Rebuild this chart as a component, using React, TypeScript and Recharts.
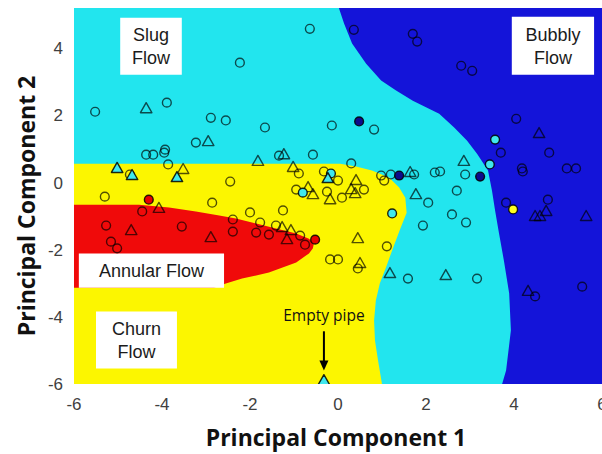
import React from 'react';
import { ComposedChart, Area, Scatter, XAxis, YAxis, ReferenceArea, ReferenceLine } from 'recharts';

type Pt = [number, number];

const xTicks = [-6, -4, -2, 0, 2, 4, 6];
const yTicks = [-6, -4, -2, 0, 2, 4];

// classifier boundaries, as [PC2, PC1 of the right-hand edge]
const plotCorners: Pt[] = [[-6, 6], [5.2, 6]];
const slugEdge: Pt[] = [
  [5.2, 0.02], [4.73, 0.14], [4.14, 0.32], [3.54, 0.64], [3.04, 0.98], [2.74, 1.32], [2.44, 1.7],
  [2.05, 2.3], [1.64, 2.64], [1.25, 2.93], [0.86, 3.16], [0.36, 3.41], [-0.24, 3.5], [-0.83, 3.57],
  [-1.52, 3.66], [-2.32, 3.77], [-3.3, 3.89], [-4.4, 3.93], [-5.6, 3.82], [-6, 3.73],
];
const churnEdge: Pt[] = [
  [0.56, 0.05], [0.48, 0.41], [0.36, 0.77], [0.15, 1.16], [-0.15, 1.39], [-0.45, 1.53], [-0.9, 1.56],
  [-1.43, 1.4], [-2.02, 1.23], [-2.53, 1.09], [-3.01, 0.95], [-3.51, 0.86], [-4.11, 0.82], [-4.7, 0.84],
  [-5.3, 0.91], [-6, 1.0],
];
const annularEdge: Pt[] = [
  [-0.66, -4.52], [-0.74, -3.84], [-0.86, -3.23], [-0.98, -2.7], [-1.07, -2.32], [-1.22, -1.86],
  [-1.37, -1.41], [-1.52, -0.95], [-1.67, -0.66], [-1.82, -0.55], [-1.96, -0.57], [-2.11, -0.66],
  [-2.38, -0.95], [-2.68, -1.57], [-2.86, -2.18], [-3.01, -2.55], [-3.13, -2.82],
];

// samples [PC1, PC2]
const openCircles: Pt[] = [
  [-0.64, 4.58], [-2.23, 3.57], [-5.52, 2.11], [-3.89, 2.38], [-2.89, 1.93], [-2.55, 1.85], [-1.66, 1.64],
  [-0.14, 1.7], [-3.23, 1.19], [-4.36, 0.83], [-4.2, 0.83], [-3.93, 0.98], [-3.95, 0.89], [-3.86, 0.54],
  [-1.34, 0.8], [-0.57, 0.83], [-4.73, 0.24], [-0.89, 0.27], [-2.45, 0.03], [-5.3, -0.42], [-2.86, -0.6],
  [-0.95, -0.21], [-0.25, -0.27], [-4.45, -0.86], [-5.27, -1.28], [-5.16, -1.76], [-5.02, -1.96],
  [-3.55, -1.31], [-2.39, -1.1], [-2.39, -1.46], [-2.0, -0.89], [-1.77, -1.19], [-1.86, -1.49],
  [-1.57, -1.55], [-1.41, -1.28], [-1.25, -0.83], [-0.86, -1.58], [-0.75, -1.85], [-0.18, -2.29],
  [0.0, -2.29], [0.09, -0.45], [0.0, 0.06], [-0.32, 0.33], [0.3, 0.57], [0.82, 1.58], [0.59, -0.21],
  [0.98, 0.21], [1.05, 0.06], [1.2, 0.24], [1.73, 0.24], [2.2, 0.3], [2.32, 0.33], [2.89, 0.24],
  [2.7, -0.24], [2.05, -0.6], [2.59, -0.95], [1.93, -1.28], [2.91, -1.19], [1.11, -1.9], [0.45, -2.56],
  [1.59, -2.86], [3.16, -2.86], [0.36, 4.55], [1.7, 4.43], [1.8, 4.2], [2.8, 3.48], [3.05, 3.33],
  [4.05, 1.9], [3.7, 0.89], [4.8, 0.89], [4.18, 0.42], [4.2, 0.33], [5.2, 0.42], [5.41, 0.42],
  [3.82, -0.6], [4.77, -0.51], [4.48, -3.39], [5.55, -3.1],
];
const openTriangles: Pt[] = [
  [-4.36, 2.2], [-2.95, 1.22], [-1.82, 0.63], [-1.23, 0.83], [-3.52, 0.39], [-1.02, 0.45], [-0.68, -0.15],
  [-0.57, -0.36], [-0.18, -0.51], [-4.07, -0.77], [-4.7, -1.43], [-2.89, -1.64], [-1.27, -1.34],
  [-1.07, -1.43], [-1.16, -1.7], [0.3, -0.21], [0.39, -0.33], [0.41, 0.06], [1.64, 0.3], [1.77, -0.36],
  [0.45, -1.67], [0.5, -2.41], [1.18, -2.71], [2.45, -2.77], [2.86, 0.63], [4.57, 1.46], [4.48, -1.01],
  [4.59, -1.01], [4.73, -0.86], [5.64, -1.01], [4.32, -3.24],
];
const redCircles: Pt[] = [[-4.3, -0.51], [-0.52, -1.7]];
const cyanTriangles: Pt[] = [[-5.02, 0.42], [-4.68, 0.21], [-3.66, 0.15], [-0.23, 0.12], [-0.32, -5.9]];
const cyanCircles: Pt[] = [[-0.8, -0.3], [-0.16, 0.27], [1.23, -0.92], [3.57, 1.28], [3.45, 0.54]];
const blueCircles: Pt[] = [[0.48, 1.82], [1.39, 0.21], [3.23, 0.18]];
const yellowCircles: Pt[] = [[3.98, -0.8]];

const BLUE = '#1414d9';
const CYAN = '#22e5ee';
const YELLOW = '#fcf600';
const RED = '#f00a0a';

const regionRows = [
  ...plotCorners.map(([y, x]) => ({ y, bubbly: x })),
  ...slugEdge.map(([y, x]) => ({ y, slug: x })),
  ...churnEdge.map(([y, x]) => ({ y, churn: x })),
  ...annularEdge.map(([y, x]) => ({ y, annular: x })),
].sort((a, b) => a.y - b.y);

const toXY = (pts: Pt[]) => pts.map(([x, y]) => ({ x, y }));

const circle = (fill: string, edge: number) => (p: any) => (
  <circle cx={p.cx} cy={p.cy} r={4.4} fill={fill} stroke="#000" strokeOpacity={edge} strokeWidth={1.4} />
);
const triangle = (fill: string, edge: number) => (p: any) => (
  <polygon
    points={`${p.cx},${p.cy - 6} ${p.cx - 5.7},${p.cy + 4} ${p.cx + 5.7},${p.cy + 4}`}
    fill={fill}
    stroke="#000"
    strokeOpacity={edge}
    strokeWidth={1.4}
    strokeLinejoin="round"
  />
);

function BoxText({ viewBox, lines }: any) {
  const { x, y, width, height } = viewBox;
  const cx = x + width / 2;
  const gap = 23;
  const first = y + height / 2 - ((lines.length - 1) * gap) / 2 + 6.5;
  return (
    <text textAnchor="middle" fontFamily="'Liberation Sans', Arial" fontSize={18} fill="#1b1b1b">
      {lines.map((l: string, i: number) => (
        <tspan key={l} x={cx} y={first + i * gap}>{l}</tspan>
      ))}
    </text>
  );
}

function PipeArrow(p: any) {
  const { x1, y1, x2, y2 } = p;
  return (
    <g>
      <text x={x1} y={y1 - 10} textAnchor="middle" fontFamily="'Open Sans'" fontSize={15.5} fill="#111">
        Empty pipe
      </text>
      <line x1={x1} y1={y1} x2={x2} y2={y2 - 8} stroke="#000" strokeWidth={2} />
      <polygon points={`${x2 - 4.5},${y2 - 10} ${x2 + 4.5},${y2 - 10} ${x2},${y2}`} fill="#000" />
    </g>
  );
}

function XTitle({ viewBox }: any) {
  return (
    <text x={viewBox.x + viewBox.width / 2 - 2} y={viewBox.y + 62} textAnchor="middle"
      fontFamily="'Open Sans'" fontWeight={700} fontSize={23} fill="#111">
      Principal Component 1
    </text>
  );
}

function YTitle({ viewBox }: any) {
  const cx = 35;
  const cy = viewBox.y + viewBox.height / 2 + 10;
  return (
    <text x={cx} y={cy} transform={`rotate(-90, ${cx}, ${cy})`} textAnchor="middle"
      fontFamily="'Open Sans'" fontWeight={700} fontSize={23} fill="#111">
      Principal Component 2
    </text>
  );
}

const tickStyle = { fill: '#404040', fontSize: 17, fontFamily: "'Liberation Sans', Arial" };

export default function App() {
  return (
    <div style={{ position: 'absolute', left: 0, top: 0, width: 602, height: 454, overflow: 'hidden', background: '#fff' }}>
      <ComposedChart width={620} height={454} layout="vertical" data={regionRows}
        margin={{ top: 8, right: 18, bottom: 0, left: 0 }}>
        <XAxis type="number" dataKey="x" domain={[-6, 6]} ticks={xTicks} allowDataOverflow
          axisLine={false} tickLine={false} tickSize={6} tickMargin={8} height={70} tick={tickStyle}
          label={<XTitle />} />
        <YAxis type="number" dataKey="y" domain={[-6, 5.2]} ticks={yTicks} allowDataOverflow reversed
          axisLine={false} tickLine={false} tickSize={6} tickMargin={5} width={74} tick={tickStyle}
          label={<YTitle />} />
        <Area type="linear" dataKey="bubbly" baseValue={-6} connectNulls fill={BLUE} fillOpacity={1} stroke="none" isAnimationActive={false} />
        <Area type="linear" dataKey="slug" baseValue={-6} connectNulls fill={CYAN} fillOpacity={1} stroke="none" isAnimationActive={false} />
        <Area type="linear" dataKey="churn" baseValue={-6} connectNulls fill={YELLOW} fillOpacity={1} stroke="none" isAnimationActive={false} />
        <Area type="linear" dataKey="annular" baseValue={-6} connectNulls fill={RED} fillOpacity={1} stroke="none" isAnimationActive={false} />
        <ReferenceArea x1={-4.95} x2={-3.55} y1={3.21} y2={4.91} fill="#fff" fillOpacity={1} stroke="none"
          label={<BoxText lines={['Slug', 'Flow']} />} />
        <ReferenceArea x1={3.95} x2={5.82} y1={3.21} y2={4.94} fill="#fff" fillOpacity={1} stroke="none"
          label={<BoxText lines={['Bubbly', 'Flow']} />} />
        <ReferenceArea x1={-5.89} x2={-2.59} y1={-3.13} y2={-2.11} fill="#fff" fillOpacity={1} stroke="none"
          label={<BoxText lines={['Annular Flow']} />} />
        <ReferenceArea x1={-5.5} x2={-3.66} y1={-5.54} y2={-3.84} fill="#fff" fillOpacity={1} stroke="none"
          label={<BoxText lines={['Churn', 'Flow']} />} />
        <ReferenceLine segment={[{ x: -0.32, y: -4.43 }, { x: -0.32, y: -5.6 }]} shape={PipeArrow} />
        <Scatter data={toXY(openCircles)} shape={circle('none', 0.68)} isAnimationActive={false} />
        <Scatter data={toXY(openTriangles)} shape={triangle('none', 0.68)} isAnimationActive={false} />
        <Scatter data={toXY(redCircles)} shape={circle('#e60000', 0.85)} isAnimationActive={false} />
        <Scatter data={toXY(cyanCircles)} shape={circle('#40e8ee', 0.85)} isAnimationActive={false} />
        <Scatter data={toXY(cyanTriangles)} shape={triangle('#40e8ee', 0.85)} isAnimationActive={false} />
        <Scatter data={toXY(blueCircles)} shape={circle('#0c0c8c', 0.85)} isAnimationActive={false} />
        <Scatter data={toXY(yellowCircles)} shape={circle('#ffff20', 0.85)} isAnimationActive={false} />
      </ComposedChart>
    </div>
  );
}
